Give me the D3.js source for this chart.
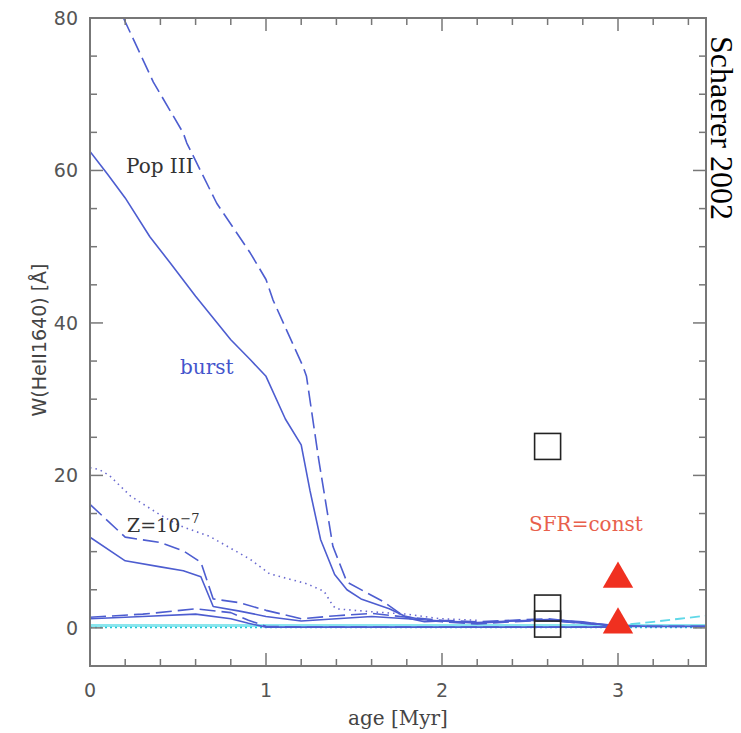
<!DOCTYPE html>
<html><head><meta charset="utf-8">
<script src="https://cdn.jsdelivr.net/npm/d3@7"></script>
<style>body{margin:0;background:#fff}</style>
</head><body>
<script>
// ---- data ----
const popSolidAge = [0,0.1,0.2,0.34,0.455,0.6,0.8,0.91,1.0,1.11,1.2,1.25,1.31,1.39,1.46,1.54,1.7,1.82,1.9,2.0,2.2,2.4,2.6,2.8,2.95,3.2,3.5];
const popSolidW   = [62.5,59.5,56.4,51.3,47.9,43.5,37.8,35.2,33,27.4,24,18,11.6,7,5,3.8,2.5,1.2,0.8,0.9,0.6,0.9,1.1,0.8,0.3,0.2,0.2];
const popDashAge = [0.19,0.36,0.53,0.55,0.72,0.91,1.0,1.04,1.21,1.23,1.3,1.38,1.46,1.67,1.78,1.9,2.0,2.2,2.4,2.6,2.8,3.0,3.2,3.5];
const popDashW   = [80,71.6,64.9,63.6,55.7,49.2,45.7,43,34.3,33,22,10.7,6,3.4,1.6,1.0,0.8,0.5,0.8,1.0,0.6,0.2,0.2,0.2];
const zDotAge = [0,0.05,0.11,0.23,0.4,0.51,0.68,0.91,1.02,1.23,1.33,1.38,1.4,1.61,1.8,1.99,2.2];
const zDotW   = [21,20.8,20,17.3,14.8,13.4,12,9,7.1,5.8,4.8,2.9,2.5,2.1,1.8,1.2,1.0];
const zSolidAge = [0,0.2,0.4,0.53,0.63,0.7,0.85,1.0,1.2,1.4,1.6,1.8,2.0,2.2,2.4,2.6,2.8,3.0];
const zSolidW   = [11.9,8.8,8.0,7.5,6.7,2.8,2.2,1.5,0.9,1.2,1.5,1.2,0.9,0.7,0.9,1.0,0.6,0.3];
const zDashAge = [0,0.2,0.4,0.53,0.63,0.7,0.85,1.0,1.2,1.4,1.6,1.8,2.0,2.2,2.4,2.6,2.8,3.0];
const zDashW   = [16.2,11.9,11.2,10.1,8.6,3.8,3.3,2.3,1.2,1.6,1.9,1.4,1.0,0.8,1.0,1.2,0.7,0.3];
const lowSolidAge = [0,0.3,0.6,0.8,0.9,1.0,1.3,1.6,2.0,2.5,3.0];
const lowSolidW   = [1.2,1.5,1.8,1.2,0.6,0.1,0.1,0.1,0.1,0.1,0.1];
const lowDashAge = [0,0.3,0.6,0.8,0.9,1.0,1.2,1.5,2.0,2.5,3.0];
const lowDashW   = [1.4,1.8,2.5,2.0,1.0,0.2,0.1,0.1,0.1,0.1,0.1];
const cyanSolidAge = [0,1,2,3,3.5];
const cyanSolidW   = [0.3,0.3,0.3,0.3,0.3];
const cyanDotAge = [0,1,2,3,3.5];
const cyanDotW   = [0.05,0.05,0.05,0.05,0.05];
const cyanDashAge = [2.9,3.0,3.2,3.35,3.5];
const cyanDashW   = [0.3,0.3,0.8,1.2,1.6];
const squareAge = [2.6,2.6,2.6];
const squareW   = [23.8,2.6,0.5];
const triAge = [3.0,3.0];
const triW   = [6.4,0.4];
const xTicks = [0,1,2,3];
const yTicks = [0,20,40,60,80];

// ---- layout ----
const W = 741, H = 733;
const L = 90, T = 18, R = 706, B = 666;
const svg = d3.select("body").append("svg").attr("width", W).attr("height", H);
const x = d3.scaleLinear().domain([0,3.5]).range([L,R]);
const y = d3.scaleLinear().domain([-5,80]).range([B,T]);

svg.append("clipPath").attr("id","c").append("rect")
  .attr("x",L).attr("y",T).attr("width",R-L).attr("height",B-T);
const g = svg.append("g").attr("clip-path","url(#c)");
const line = d3.line().x(d=>x(d[0])).y(d=>y(d[1]));
function draw(ax, ay, color, dash, width){
  g.append("path").datum(ax.map((a,i)=>[a,ay[i]]))
    .attr("d", line).attr("fill","none").attr("stroke",color)
    .attr("stroke-width", width||1.6).attr("stroke-dasharray", dash||null)
    .attr("stroke-linejoin","round");
}
const blue = "#4d5dd0";
draw(cyanSolidAge, cyanSolidW, "#8ae6ee", null, 3);
draw(cyanDotAge, cyanDotW, "#20c8d8", "2,3", 1.6);
draw(cyanDashAge, cyanDashW, "#60d8e8", "10,5", 1.8);
draw(lowSolidAge, lowSolidW, blue);
draw(lowDashAge, lowDashW, blue, "16,6");
draw(zSolidAge, zSolidW, blue);
draw(zDashAge, zDashW, blue, "16,6");
draw(zDotAge, zDotW, "#6a6ad0", "1.5,4", 1.6);
draw(popSolidAge, popSolidW, blue);
draw(popDashAge, popDashW, blue, "16,6");

// markers
svg.selectAll(".sq").data(squareAge.map((a,i)=>[a,squareW[i]])).join("rect")
  .attr("x", d=>x(d[0])-13).attr("y", d=>y(d[1])-13).attr("width",26).attr("height",26)
  .attr("fill","none").attr("stroke","#222").attr("stroke-width",1.6);
svg.selectAll(".tri").data(triAge.map((a,i)=>[a,triW[i]])).join("path")
  .attr("transform", d=>`translate(${x(d[0])},${y(d[1])})`)
  .attr("d", d3.symbol(d3.symbolTriangle, 400)).attr("fill","#f03020");

// axes
const grey = "#777";
const ax = svg.append("g").attr("stroke",grey).attr("stroke-width",1.5);
ax.append("rect").attr("x",L).attr("y",T).attr("width",R-L).attr("height",B-T).attr("fill","none").attr("stroke-width",2);
const xMinor = d3.range(0,3.51,0.2).map(v=>+v.toFixed(2));
xMinor.forEach(v=>{
  const major = Math.abs(v-Math.round(v))<1e-6;
  const len = major?13:7;
  ax.append("line").attr("x1",x(v)).attr("x2",x(v)).attr("y1",B).attr("y2",B-len);
  ax.append("line").attr("x1",x(v)).attr("x2",x(v)).attr("y1",T).attr("y2",T+len);
});
d3.range(-5,81,5).forEach(v=>{
  const major = v%20===0;
  const len = major?13:7;
  ax.append("line").attr("y1",y(v)).attr("y2",y(v)).attr("x1",L).attr("x2",L+len);
  ax.append("line").attr("y1",y(v)).attr("y2",y(v)).attr("x1",R).attr("x2",R-len);
});
const tf = "DejaVu Sans, sans-serif";
svg.selectAll(".xt").data(xTicks).join("text")
  .attr("x",d=>x(d)).attr("y",B+31).attr("text-anchor","middle")
  .attr("font-family",tf).attr("font-size",19).attr("fill","#555").text(d=>d);
svg.selectAll(".yt").data(yTicks).join("text")
  .attr("x",L-12).attr("y",d=>y(d)+7).attr("text-anchor","end")
  .attr("font-family",tf).attr("font-size",19).attr("fill","#555").text(d=>d);

svg.append("text").attr("x",398).attr("y",725).attr("text-anchor","middle")
  .attr("font-family","DejaVu Serif, serif").attr("font-size",20).attr("fill","#444").text("age [Myr]");
svg.append("text").attr("transform","translate(46,340) rotate(-90)").attr("text-anchor","middle")
  .attr("font-family",tf).attr("font-size",19).attr("fill","#444").text("W(HeII1640) [Å]");
svg.append("text").attr("transform","translate(711,128) rotate(90)").attr("text-anchor","middle")
  .attr("font-family","Liberation Serif, serif").attr("font-size",32).attr("fill","#000").text("Schaerer 2002");

const sf = "DejaVu Serif, serif";
svg.append("text").attr("x",126).attr("y",173).attr("font-family",sf).attr("font-size",20).attr("fill","#333").text("Pop III");
svg.append("text").attr("x",180).attr("y",374).attr("font-family",sf).attr("font-size",20).attr("fill","#4455cc").text("burst");
const zt = svg.append("text").attr("x",127).attr("y",532).attr("font-family",sf).attr("font-size",19).attr("fill","#333");
zt.append("tspan").text("Z=10");
zt.append("tspan").attr("dy",-9).attr("font-size",13).text("−7");
svg.append("text").attr("x",529).attr("y",531).attr("font-family",sf).attr("font-size",20).attr("fill","#e8604c").text("SFR=const");
</script>
</body></html>
